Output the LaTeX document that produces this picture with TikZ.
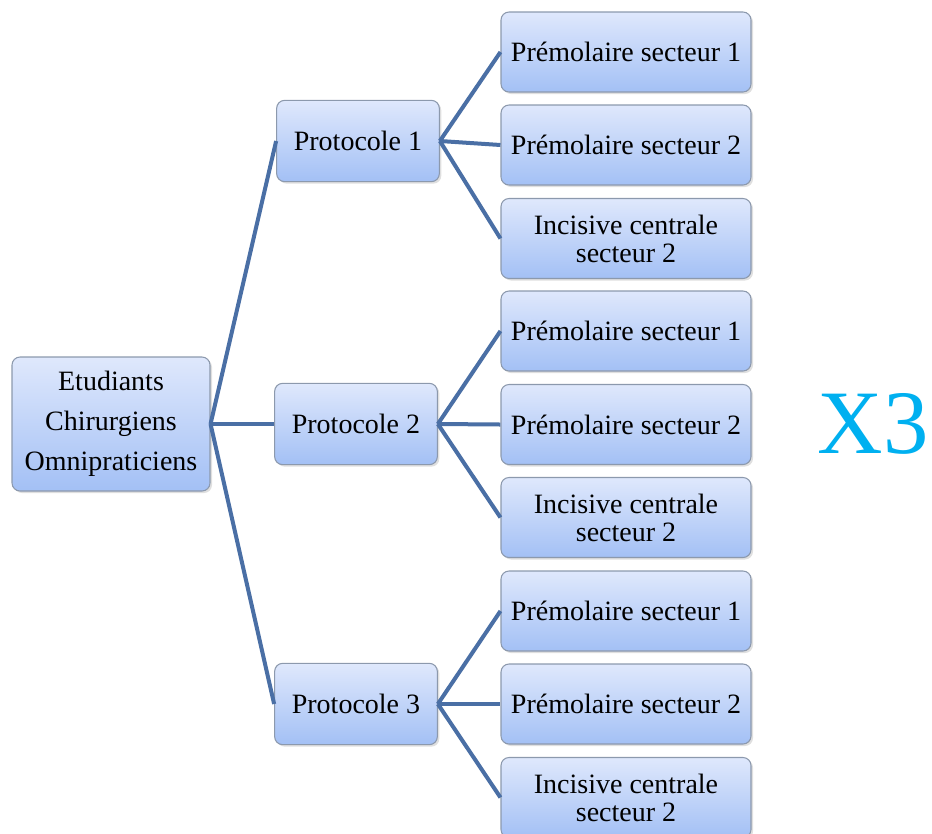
\documentclass[tikz,border=0pt]{standalone}
\usepackage{fontspec}
\setmainfont{Liberation Serif}
\usepackage{tikz}
\usetikzlibrary{positioning,shadows}
\definecolor{linkblue}{HTML}{4A6FA5}
\definecolor{boxtop}{HTML}{DFE8FC}
\definecolor{boxbot}{HTML}{A3C0F5}
\definecolor{boxline}{HTML}{8C99AD}
\definecolor{xblue}{HTML}{00B0F0}
\tikzset{box/.style={rectangle, rounded corners=6pt, draw=boxline, line width=0.8pt,
  top color=boxtop, bottom color=boxbot, align=center, inner sep=2pt,
  drop shadow={shadow xshift=1.5pt, shadow yshift=-1.5pt, opacity=0.25},
  font=\fontsize{21}{21}\selectfont},
  leaf/.style={box, minimum width=187.5pt, minimum height=60pt},
  proto/.style={box, minimum width=122pt, minimum height=61pt},
  link/.style={draw=linkblue, line width=3pt}}

\begin{document}
\begin{tikzpicture}[x=0.75pt, y=-0.75pt]
        \useasboundingbox (0,0) rectangle (932,833);
        \node[box, minimum width=148.5pt, minimum height=100.5pt, font=\fontsize{21}{30}\selectfont] (r) at (111, 424) {Etudiants\\Chirurgiens\\Omnipraticiens};
        
        \node[proto] (p1) at (358, 141) {Protocole 1};
        \node[proto] (p2) at (356, 424) {Protocole 2};
        \node[proto] (p3) at (356, 704) {Protocole 3};
        
        \node[leaf] (p1a) at (626, 52) {Prémolaire secteur 1};
        \node[leaf] (p1b) at (626, 145) {Prémolaire secteur 2};
        \node[leaf] (p1c) at (626, 238.5) {Incisive centrale\\secteur 2};
        
        \node[leaf] (p2a) at (626, 331) {Prémolaire secteur 1};
        \node[leaf] (p2b) at (626, 424.5) {Prémolaire secteur 2};
        \node[leaf] (p2c) at (626, 517.5) {Incisive centrale\\secteur 2};
        
        \node[leaf] (p3a) at (626, 611) {Prémolaire secteur 1};
        \node[leaf] (p3b) at (626, 704) {Prémolaire secteur 2};
        \node[leaf] (p3c) at (626, 797.5) {Incisive centrale\\secteur 2};
        
        \node[text=xblue, font=\fontsize{68}{68}\selectfont] (x3) at (873, 424) {X3};
        
        \draw (r.east) edge[link] (p1.west)
              (r.east) edge[link] (p2.west)
              (r.east) edge[link] (p3.west)
              
              (p1.east) edge[link] (p1a.west)
              (p1.east) edge[link] (p1b.west)
              (p1.east) edge[link] (p1c.west)
              
              (p2.east) edge[link] (p2a.west)
              (p2.east) edge[link] (p2b.west)
              (p2.east) edge[link] (p2c.west)
              
              (p3.east) edge[link] (p3a.west)
              (p3.east) edge[link] (p3b.west)
              (p3.east) edge[link] (p3c.west);
    \end{tikzpicture}
\end{document}
